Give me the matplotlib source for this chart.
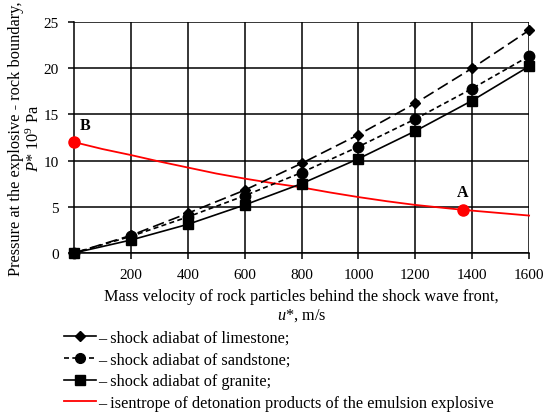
import matplotlib
matplotlib.use("Agg")
import matplotlib.pyplot as plt
from matplotlib.lines import Line2D

plt.rcParams['font.family'] = ['Liberation Serif', 'DejaVu Serif']
plt.rcParams['mathtext.fontset'] = 'custom'
plt.rcParams['mathtext.rm'] = 'Liberation Serif'
plt.rcParams['mathtext.it'] = 'Liberation Serif:italic'

u = [0, 200, 400, 600, 800, 1000, 1200, 1400, 1600]
limestone = [0, 1.9, 4.3, 6.8, 9.7, 12.8, 16.2, 20.0, 24.1]
sandstone = [0, 1.8, 3.9, 6.2, 8.7, 11.5, 14.5, 17.8, 21.3]
granite = [0, 1.4, 3.1, 5.2, 7.5, 10.2, 13.2, 16.5, 20.2]
iso_u = [0, 100, 200, 300, 400, 500, 600, 700, 800, 900, 1000, 1100, 1200, 1300, 1367, 1450, 1600]
iso_p = [12.0, 11.25, 10.6, 9.9, 9.25, 8.6, 8.05, 7.55, 7.1, 6.55, 6.05, 5.6, 5.2, 4.88, 4.67, 4.45, 4.05]
pointA = (1367, 4.67)
pointB = (0, 12.0)
xticks = [200, 400, 600, 800, 1000, 1200, 1400, 1600]
yticks = [0, 5, 10, 15, 20, 25]

fig = plt.figure(figsize=(5.5, 4.14), dpi=100)
ax = fig.add_axes([0.1345, 0.3865, 0.8275, 0.558])

ax.plot(u, limestone, color='black', lw=1.2, dashes=(7, 3), marker='D', ms=5, clip_on=False, zorder=4)
ax.plot(u, sandstone, color='black', lw=1.2, dashes=(3, 2), marker='o', ms=7.5, clip_on=False, zorder=4)
ax.plot(u, granite, color='black', lw=1.2, marker='s', ms=7.5, clip_on=False, zorder=4)
ax.plot(iso_u, iso_p, color='#ff0000', lw=1.3, zorder=3, clip_on=False)
ax.plot([pointA[0], pointB[0]], [pointA[1], pointB[1]], ls='none', marker='o', ms=8,
        color='#ff0000', clip_on=False, zorder=5)
ax.text(pointA[0], pointA[1] + 1.1, 'A', fontweight='bold', fontsize=11.5, ha='center', va='bottom')
ax.text(pointB[0] + 40, pointB[1] + 1.0, 'B', fontweight='bold', fontsize=11.5, ha='center', va='bottom')

ax.set_xlim(0, 1600)
ax.set_ylim(0, 25)
ax.set_xticks(xticks)
ax.set_yticks(yticks)
ax.grid(True, color='black', lw=1.1)
ax.set_axisbelow(True)
for s in ax.spines.values():
    s.set_color('black')
    s.set_linewidth(1.1)
ax.spines['top'].set_visible(False)
ax.spines['right'].set_visible(False)
ax.tick_params(direction='out', length=4, width=1.1, labelsize=11, colors='black')
ax.tick_params(axis='x', pad=7)
ax.tick_params(axis='y', pad=7)

ax.set_xlabel('Mass velocity of rock particles behind the shock wave front,\n$\\mathit{u}$*, m/s',
              fontsize=11.7, labelpad=5, linespacing=1.15)
ax.set_ylabel('Pressure at the explosive - rock boundary,\n$\\mathit{P}$* 10$^9$ Pa',
              fontsize=11.8, labelpad=0, linespacing=1.15)

handles = [
    Line2D([], [], color='black', lw=1.2, marker='D', ms=5),
    Line2D([], [], color='black', lw=1.2, dashes=(3, 2), marker='o', ms=7),
    Line2D([], [], color='black', lw=1.2, marker='s', ms=7),
    Line2D([], [], color='#ff0000', lw=1.3),
]
labels = ['– shock adiabat of limestone;',
          '– shock adiabat of sandstone;',
          '– shock adiabat of granite;',
          '– isentrope of detonation products of the emulsion explosive']
fig.legend(handles, labels, loc='upper left', bbox_to_anchor=(0.101, 0.221), frameon=False,
           fontsize=11.7, handlelength=2.0, handletextpad=0.1, labelspacing=0.36, borderpad=0)

fig.savefig('out.png', dpi=100)
